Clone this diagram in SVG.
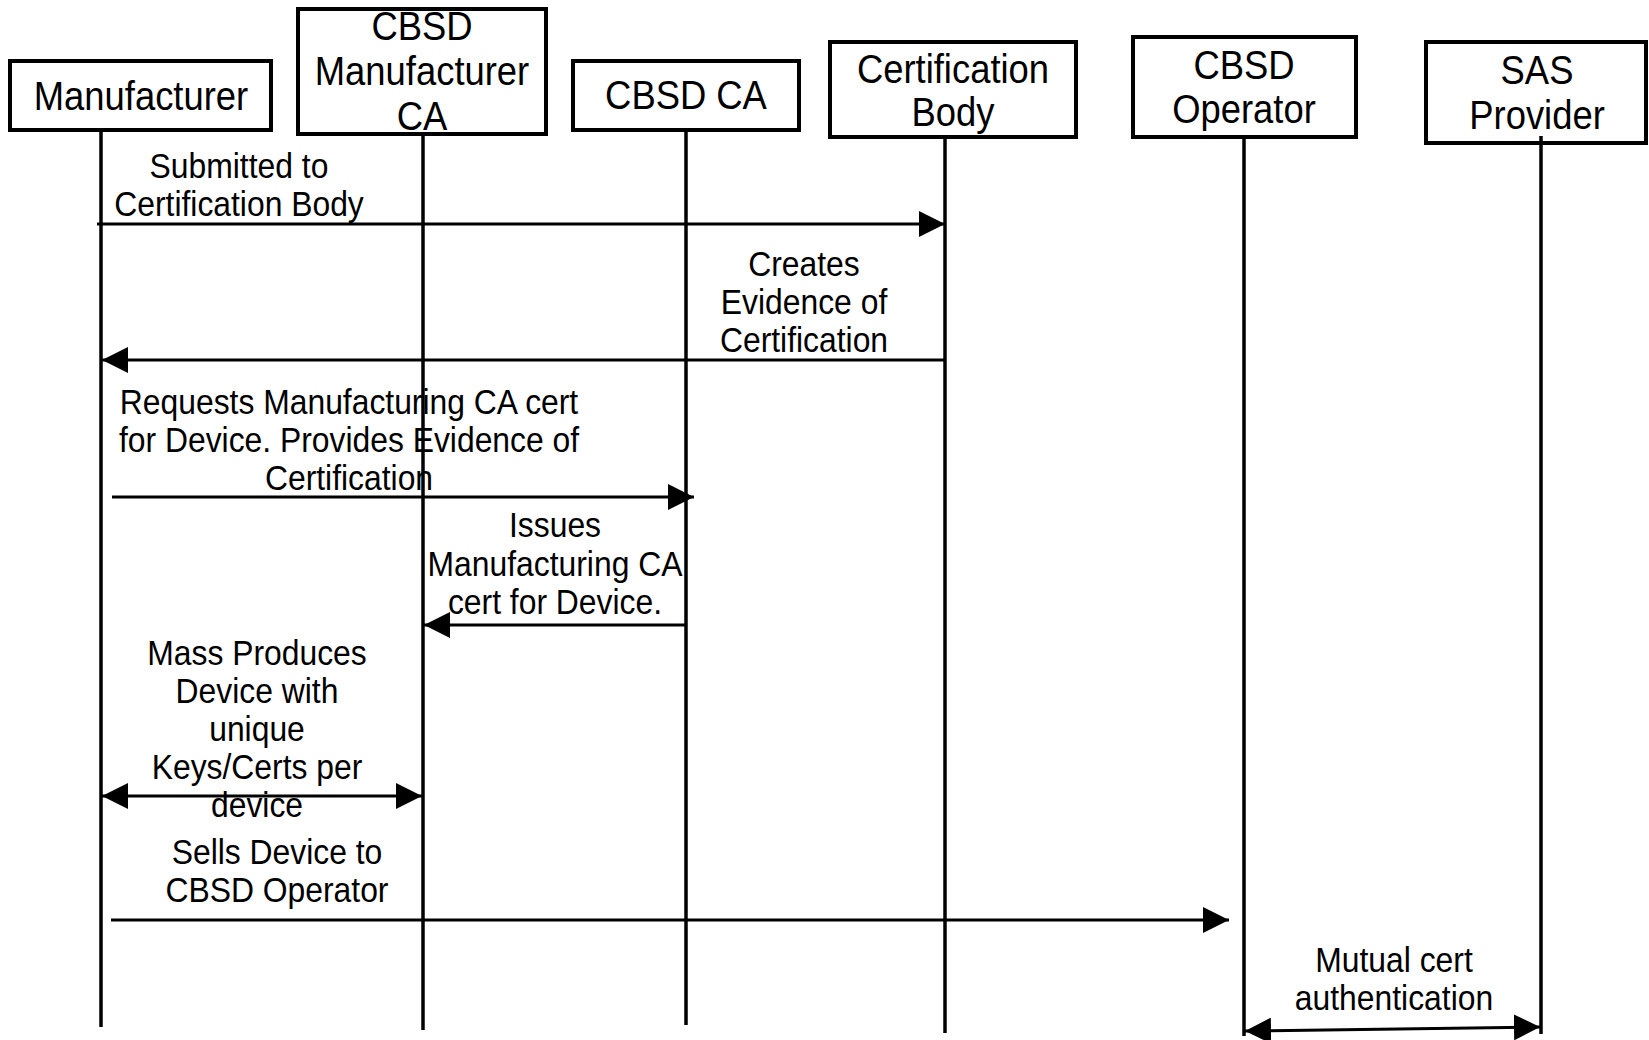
<svg xmlns="http://www.w3.org/2000/svg" width="1649" height="1040" viewBox="0 0 1649 1040">
  <style>
    .box { fill: #fff; stroke: #000; stroke-width: 4; }
    .life { stroke: #000; stroke-width: 3.5; fill: none; }
    .msg { stroke: #000; stroke-width: 3; fill: none; }
    text { font-family: "Liberation Sans", Arial, sans-serif; fill: #000; text-anchor: middle;
           transform-box: fill-box; transform-origin: center; transform: scaleX(0.91); }
    .hd { font-size: 40px; }
    .lb { font-size: 35px; }
  </style>
  <defs>
    <marker id="head" viewBox="0 0 26 26" refX="26" refY="13" markerWidth="26" markerHeight="26"
            markerUnits="userSpaceOnUse" orient="auto-start-reverse">
      <path d="M0,0 L26,13 L0,26 z" fill="#000"/>
    </marker>
  </defs>

  <!-- participants -->
  <g id="manufacturer">
    <rect class="box" x="10" y="61" width="261" height="69"/>
    <text class="hd" x="141" y="110">Manufacturer</text>
  </g>
  <g id="cbsd-manufacturer-ca">
    <rect class="box" x="298" y="9" width="248" height="125"/>
    <text class="hd" x="422" y="40">CBSD</text>
    <text class="hd" x="422" y="85">Manufacturer</text>
    <text class="hd" x="422" y="130">CA</text>
  </g>
  <g id="cbsd-ca">
    <rect class="box" x="573" y="61" width="226" height="69"/>
    <text class="hd" x="686" y="109">CBSD CA</text>
  </g>
  <g id="certification-body">
    <rect class="box" x="830" y="42" width="246" height="95"/>
    <text class="hd" x="953" y="83">Certification</text>
    <text class="hd" x="953" y="126">Body</text>
  </g>
  <g id="cbsd-operator">
    <rect class="box" x="1133" y="37" width="223" height="100"/>
    <text class="hd" x="1244" y="79">CBSD</text>
    <text class="hd" x="1244" y="123">Operator</text>
  </g>
  <g id="sas-provider">
    <rect class="box" x="1426" y="42" width="220" height="101"/>
    <text class="hd" x="1537" y="84">SAS</text>
    <text class="hd" x="1537" y="129">Provider</text>
  </g>

  <!-- lifelines and messages -->
  <g id="connectors">
    <line class="life" x1="101" y1="130" x2="101" y2="1027"/>
    <line class="life" x1="423" y1="134" x2="423" y2="1030"/>
    <line class="life" x1="686" y1="130" x2="686" y2="1025"/>
    <line class="life" x1="945" y1="137" x2="945" y2="1033"/>
    <line class="life" x1="1244" y1="137" x2="1244" y2="1036"/>
    <line class="life" x1="1541" y1="136" x2="1541" y2="1034"/>

    <line class="msg" x1="97" y1="224" x2="945" y2="224" marker-end="url(#head)"/>
    <line class="msg" x1="945" y1="360" x2="102" y2="360" marker-end="url(#head)"/>
    <line class="msg" x1="112" y1="497" x2="694" y2="497" marker-end="url(#head)"/>
    <line class="msg" x1="686" y1="625" x2="424" y2="625" marker-end="url(#head)"/>
    <line class="msg" x1="102" y1="796" x2="422" y2="796" marker-start="url(#head)" marker-end="url(#head)"/>
    <line class="msg" x1="111" y1="920" x2="1229" y2="920" marker-end="url(#head)"/>
    <line class="msg" x1="1245" y1="1031" x2="1540" y2="1027" marker-start="url(#head)" marker-end="url(#head)"/>
  </g>

  <!-- message labels -->
  <g id="labels">
    <text class="lb" x="239" y="178">Submitted to</text>
    <text class="lb" x="239" y="216">Certification Body</text>

    <text class="lb" x="804" y="276">Creates</text>
    <text class="lb" x="804" y="314">Evidence of</text>
    <text class="lb" x="804" y="352">Certification</text>

    <text class="lb" x="349" y="414">Requests Manufacturing CA cert</text>
    <text class="lb" x="349" y="452">for Device. Provides Evidence of</text>
    <text class="lb" x="349" y="490">Certification</text>

    <text class="lb" x="555" y="537">Issues</text>
    <text class="lb" x="555" y="576">Manufacturing CA</text>
    <text class="lb" x="555" y="614">cert for Device.</text>

    <text class="lb" x="257" y="665">Mass Produces</text>
    <text class="lb" x="257" y="703">Device with</text>
    <text class="lb" x="257" y="741">unique</text>
    <text class="lb" x="257" y="779">Keys/Certs per</text>
    <text class="lb" x="257" y="817">device</text>

    <text class="lb" x="277" y="864">Sells Device to</text>
    <text class="lb" x="277" y="902">CBSD Operator</text>

    <text class="lb" x="1394" y="972">Mutual cert</text>
    <text class="lb" x="1394" y="1010">authentication</text>
  </g>
</svg>
